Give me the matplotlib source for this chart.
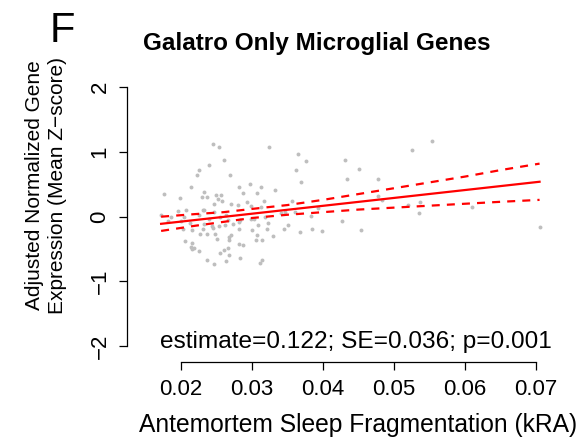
import matplotlib
matplotlib.use("Agg")
import matplotlib.pyplot as plt

plt.rcParams['font.family'] = ['Liberation Sans', 'DejaVu Sans']

# scatter points (kRA, adjusted z-score)
frag = [0.0245, 0.0253, 0.0324, 0.0365, 0.0376, 0.0431, 0.0261, 0.0240, 0.0226, 0.0223,
        0.0269, 0.0362, 0.0434, 0.0369, 0.0214, 0.0297, 0.0282, 0.0313, 0.0333, 0.0176,
        0.0232, 0.0288, 0.0307, 0.0249, 0.0256, 0.0198, 0.0229, 0.0237, 0.0252, 0.0258,
        0.0293, 0.0317, 0.0247, 0.0271, 0.0280, 0.0357, 0.0299, 0.0313, 0.0207, 0.0231,
        0.0196, 0.0247, 0.0264, 0.0233, 0.0346, 0.0361, 0.0393, 0.0172, 0.0186, 0.0204,
        0.0225, 0.0239, 0.0255, 0.0266, 0.0283, 0.0298, 0.0319, 0.0341, 0.0383, 0.0181,
        0.0200, 0.0213, 0.0232, 0.0243, 0.0253, 0.0262, 0.0273, 0.0282, 0.0303, 0.0323,
        0.0308, 0.0351, 0.0427, 0.0203, 0.0215, 0.0231, 0.0245, 0.0281, 0.0300, 0.0321,
        0.0345, 0.0367, 0.0385, 0.0399, 0.0227, 0.0237, 0.0248, 0.0270, 0.0307, 0.0330,
        0.0251, 0.0268, 0.0206, 0.0267, 0.0306, 0.0314, 0.0215, 0.0282, 0.0288, 0.0214,
        0.0218, 0.0216, 0.0261, 0.0266, 0.0226, 0.0255, 0.0267, 0.0283, 0.0236, 0.0263,
        0.0314, 0.0311, 0.0246, 0.0526, 0.0554, 0.0451, 0.0478, 0.0477, 0.0483, 0.0519,
        0.0537, 0.0535, 0.0610, 0.0454, 0.0705]
expr = [1.12, 1.08, 1.08, 0.97, 0.86, 0.88, 0.87, 0.80, 0.72, 0.64,
        0.64, 0.72, 0.58, 0.54, 0.46, 0.51, 0.46, 0.46, 0.42, 0.35,
        0.38, 0.37, 0.37, 0.33, 0.33, 0.29, 0.30, 0.30, 0.28, 0.24,
        0.23, 0.24, 0.20, 0.20, 0.18, 0.24, 0.17, 0.15, 0.11, 0.11,
        0.09, 0.07, 0.03, 0.10, 0.08, 0.08, 0.13, 0.02, -0.01, 0.00,
        0.02, -0.03, 0.00, -0.05, -0.05, -0.03, 0.00, 0.05, 0.01, -0.07,
        -0.07, -0.10, -0.11, -0.14, -0.14, -0.13, -0.11, -0.08, -0.04, -0.10,
        -0.13, -0.13, -0.06, -0.19, -0.21, -0.19, -0.17, -0.19, -0.21, -0.19,
        -0.19, -0.24, -0.19, -0.22, -0.26, -0.26, -0.26, -0.28, -0.28, -0.30,
        -0.34, -0.31, -0.38, -0.36, -0.36, -0.36, -0.41, -0.42, -0.44, -0.47,
        -0.48, -0.50, -0.51, -0.49, -0.53, -0.56, -0.59, -0.64, -0.67, -0.68,
        -0.67, -0.72, -0.73, 1.03, 1.17, 0.74, 0.58, 0.32, 0.26, 0.18,
        0.23, 0.05, 0.15, -0.21, -0.16]

# fitted line and 95% band
fit_x = [0.0172, 0.0705]
fit_y = [-0.11, 0.54]
ci_x = [0.0172, 0.022, 0.026, 0.030, 0.035, 0.040, 0.045, 0.050, 0.055, 0.060, 0.065, 0.0705]
ci_lo = [-0.22, -0.14, -0.08, -0.02, 0.03, 0.07, 0.11, 0.14, 0.17, 0.20, 0.23, 0.26]
ci_hi = [0.00, 0.04, 0.07, 0.12, 0.18, 0.26, 0.35, 0.44, 0.53, 0.62, 0.72, 0.82]

xticks = [0.02, 0.03, 0.04, 0.05, 0.06, 0.07]
yticks = [-2, -1, 0, 1, 2]

W, H = 586, 445
fig = plt.figure(figsize=(W / 100, H / 100), dpi=100)
ax = fig.add_axes([127 / W, (H - 362) / H, (W - 127) / W, (362 - 75) / H])

ax.scatter(frag, expr, s=8, color="#bebebe", linewidths=0, zorder=1)
ax.plot(fit_x, fit_y, color="red", lw=1.6, zorder=3)
ax.plot(ci_x, ci_lo, color="red", lw=1.6, ls=(0, (3.6, 3.2)), zorder=3)
ax.plot(ci_x, ci_hi, color="red", lw=1.6, ls=(0, (3.6, 3.2)), zorder=3)

ax.set_xlim(0.012394, 0.07704)
ax.set_ylim(-2.246, 2.19)
for s in ["top", "right"]:
    ax.spines[s].set_visible(False)
ax.spines["left"].set_bounds(-2, 2)
ax.spines["bottom"].set_bounds(0.02, 0.07)
for s in ["left", "bottom"]:
    ax.spines[s].set_linewidth(0.9)

ax.set_xticks(xticks)
ax.set_xticklabels([f"{t:.2f}" for t in xticks])
ax.set_yticks(yticks)
ax.set_yticklabels([str(t).replace("-", "\u2212") for t in yticks], rotation=90, va="center")
ax.tick_params(axis="both", length=5.8, width=0.9, labelsize=16)
ax.tick_params(axis="x", pad=6.5)
ax.tick_params(axis="y", pad=6)

fig.text(50 / W, 1 - 42 / H, "F", fontsize=30, ha="left", va="baseline")
fig.text(317 / W, 1 - 50 / H, "Galatro Only Microglial Genes",
         fontsize=17.5, fontweight="bold", ha="center", va="baseline")
fig.text(356 / W, 1 - 348 / H, "estimate=0.122; SE=0.036; p=0.001",
         fontsize=17.6, ha="center", va="baseline")
fig.text(358 / W, 1 - 425 / H, "Antemortem Sleep Fragmentation (kRA)",
         fontsize=17.7, ha="center", va="center")
fig.text(46 / W, 1 - 185 / H, "Adjusted Normalized Gene\nExpression (Mean Z\u2212score)",
         fontsize=15, rotation=90, ha="center", va="center", linespacing=1.3)

fig.savefig("out.png", dpi=100)
